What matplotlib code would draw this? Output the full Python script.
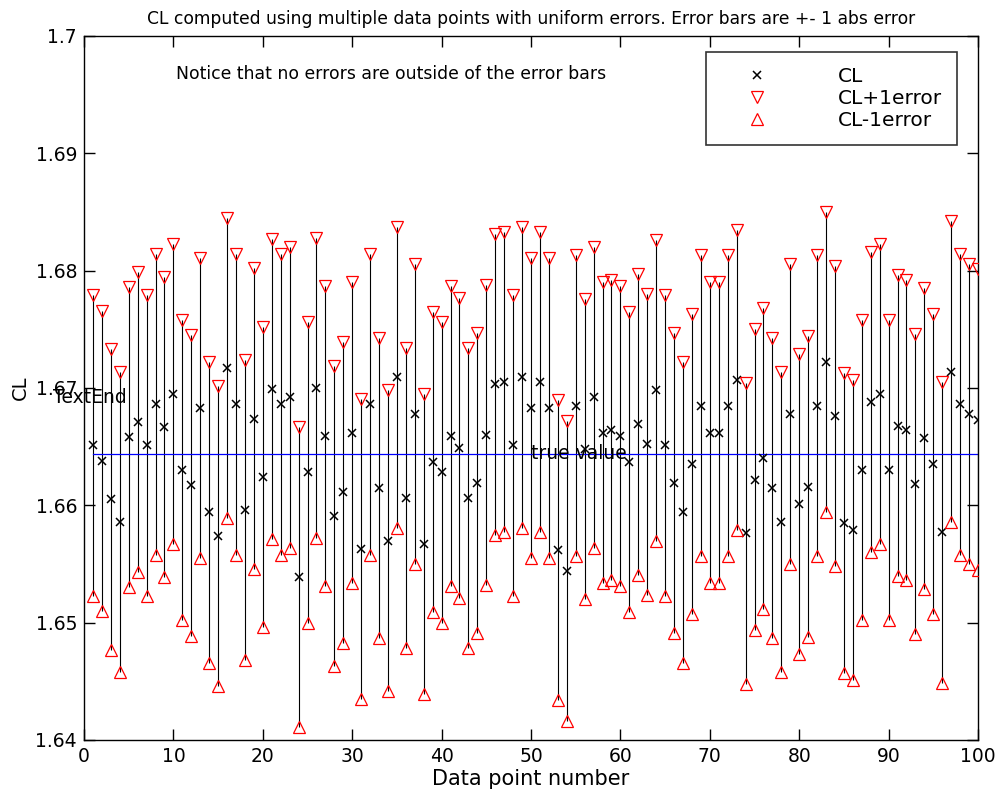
import matplotlib
matplotlib.use("Agg")
import matplotlib.pyplot as plt
import numpy as np

# ---- data ----
point_number = list(range(1, 101))
cl_values = [
    1.6651, 1.6638, 1.6605, 1.6586, 1.6658, 1.6671, 1.6651, 1.6686, 1.6667, 1.6695,
    1.6630, 1.6617, 1.6683, 1.6594, 1.6574, 1.6717, 1.6686, 1.6596, 1.6674, 1.6624,
    1.6699, 1.6686, 1.6692, 1.6539, 1.6628, 1.6700, 1.6659, 1.6591, 1.6611, 1.6662,
    1.6563, 1.6686, 1.6615, 1.6570, 1.6709, 1.6606, 1.6678, 1.6567, 1.6637, 1.6628,
    1.6659, 1.6649, 1.6606, 1.6619, 1.6660, 1.6703, 1.6705, 1.6651, 1.6709, 1.6683,
    1.6705, 1.6683, 1.6562, 1.6544, 1.6685, 1.6648, 1.6692, 1.6662, 1.6664, 1.6659,
    1.6637, 1.6669, 1.6652, 1.6698, 1.6651, 1.6619, 1.6594, 1.6635, 1.6685, 1.6662,
    1.6662, 1.6685, 1.6707, 1.6576, 1.6622, 1.6640, 1.6615, 1.6586, 1.6678, 1.6601,
    1.6616, 1.6685, 1.6722, 1.6676, 1.6585, 1.6579, 1.6630, 1.6688, 1.6695, 1.6630,
    1.6668, 1.6664, 1.6618, 1.6657, 1.6635, 1.6577, 1.6714, 1.6686, 1.6678, 1.6673,
]
abs_error = 0.0128
true_value = 1.6644

x_ticks = [0, 10, 20, 30, 40, 50, 60, 70, 80, 90, 100]
y_ticks = [1.64, 1.65, 1.66, 1.67, 1.68, 1.69, 1.70]
y_tick_labels = ["1.64", "1.65", "1.66", "1.67", "1.68", "1.69", "1.7"]

x = np.array(point_number)
cl = np.array(cl_values)
upper = cl + abs_error
lower = cl - abs_error

plt.rcParams['font.family'] = ['DejaVu Sans']

fig = plt.figure(figsize=(9.97, 7.92), dpi=100)
ax = fig.add_axes([84/997, 1 - 740/792, (978-84)/997, (740-36)/792])

ax.vlines(x, lower, upper, colors='black', linewidth=0.8, zorder=1)
ax.plot(x, cl, linestyle='none', marker='x', color='black', markersize=6,
        markeredgewidth=1.1, label='CL', zorder=3)
ax.plot(x, upper, linestyle='none', marker='v', markerfacecolor='none',
        markeredgecolor='red', markersize=8, markeredgewidth=0.9,
        label='CL+1error', zorder=3)
ax.plot(x, lower, linestyle='none', marker='^', markerfacecolor='none',
        markeredgecolor='red', markersize=8, markeredgewidth=0.9,
        label='CL-1error', zorder=3)
ax.plot([point_number[0], point_number[-1]], [true_value, true_value],
        color='#0000ff', linewidth=0.9, zorder=2)

ax.text(50, true_value, 'true value', fontsize=13.5, va='center', ha='left')
ax.text(-3.5, 1.6692, 'TextEnd', fontsize=13.5, va='center', ha='left')
ax.text(10.3, 1.6968, 'Notice that no errors are outside of the error bars',
        fontsize=12.4, va='center', ha='left')

ax.set_xlim(0, 100)
ax.set_ylim(1.64, 1.70)
ax.set_xticks(x_ticks)
ax.set_xticklabels([str(t) for t in x_ticks])
ax.set_yticks(y_ticks)
ax.set_yticklabels(y_tick_labels)
ax.tick_params(direction='in', length=8, width=1, top=True, right=True,
               labelsize=13.5, pad=5)
for s in ax.spines.values():
    s.set_linewidth(1)

ax.set_xlabel('Data point number', fontsize=15, labelpad=2)
ax.set_ylabel('CL', fontsize=14)
ax.set_title('CL computed using multiple data points with uniform errors. '
             'Error bars are +- 1 abs error', fontsize=12.3, pad=9)

leg = ax.legend(loc='upper right', bbox_to_anchor=(0.9765, 0.9773),
                borderaxespad=0, fontsize=14.5, frameon=True, fancybox=False,
                edgecolor='black', handlelength=3.6, handletextpad=2.2,
                borderpad=0.75, labelspacing=0.15)
leg.get_frame().set_linewidth(1.2)

fig.savefig('out.png', dpi=100)
